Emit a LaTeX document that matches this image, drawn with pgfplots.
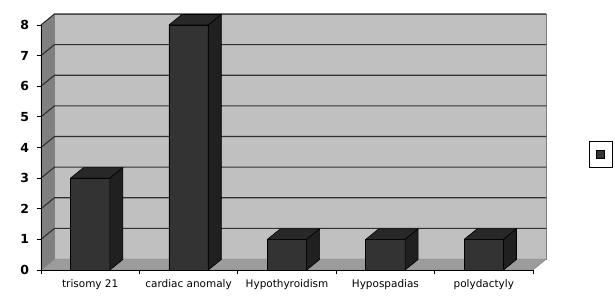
\documentclass[border=0pt]{standalone}
\usepackage{fontspec}
\setmainfont{DejaVu Sans}
\usepackage{pgfplots}
\pgfplotsset{compat=1.18}
\usepackage{pgfplotstable}
\definecolor{backwall}{HTML}{C0C0C0}
\definecolor{sidewall}{HTML}{808080}
\definecolor{floorc}{HTML}{9C9C9C}
\definecolor{gridc}{HTML}{303030}
\definecolor{wallborder}{HTML}{808080}
\definecolor{barfront}{HTML}{333333}
\definecolor{bartop}{HTML}{282828}
\definecolor{barside}{HTML}{202020}

\pgfplotstableread{
x y
0 3
1 8
2 1
3 1
4 1
}\data

\begin{document}
\begin{tikzpicture}
\begin{axis}[
  scale only axis, width=492bp, height=245bp,
  xmin=0, xmax=5, ymin=0, ymax=8,
  clip=false, axis on top,
  axis lines=left,
  every outer x axis line/.append style={-},
  every outer y axis line/.append style={-},
  axis line style={black, line width=0.8bp},
  xtick={0,1,2,3,4,5},
  xticklabels={},
  extra x ticks={0.5,1.5,2.5,3.5,4.5},
  extra x tick labels={trisomy 21, cardiac anomaly, Hypothyroidism, Hypospadias, polydactyly},
  extra x tick style={major tick length=0pt},
  ytick={0,...,8},
  tick align=outside,
  major tick length=4.5bp,
  tick style={black, line width=0.8bp},
  xticklabel style={font=\fontsize{10.5}{12}\selectfont, yshift=-6.5bp},
  yticklabel style={font=\bfseries\fontsize{12.5}{14}\selectfont, xshift=-4bp},
  /pgf/number format/assume math mode=true,
  legend style={at={(1.138,0.471)}, anchor=center, draw=black, line width=0.8bp,
    inner xsep=6.5bp, inner ysep=8.5bp, nodes={inner sep=0pt}},
]
% walls and floor
\addplot[fill=backwall, draw=wallborder, forget plot] coordinates {(0.137,0.359) (5.137,0.359) (5.137,8.359) (0.137,8.359) (0.137,0.359)};
\addplot[fill=floorc, draw=wallborder, forget plot] coordinates {(0,0) (5,0) (5.137,0.359) (0.137,0.359) (0,0)};
\addplot[fill=sidewall, draw=wallborder, forget plot] coordinates {(0,0) (0,8) (0.137,8.359) (0.137,0.359) (0,0)};
% gridlines
\pgfplotsforeachungrouped \v in {1,...,8}{
  \pgfmathsetmacro\vb{\v+0.359}
  \edef\tmp{\noexpand\addplot[gridc, line width=1.1bp, forget plot] coordinates {(0,\v) (0.137,\vb) (5.137,\vb)};}
  \tmp
}
% bar fronts
\addplot[ybar, bar width=0.4, bar shift=0pt, fill=barfront, draw=black, line width=0.6bp,
  legend image code/.code={\draw[fill=barfront, draw=black] (-4bp,-4bp) rectangle (4bp,4bp);}]
  table[x expr=\thisrow{x}+0.5, y=y]{\data};
\addlegendentry{}
% bar tops and sides
\pgfplotstablegetrowsof{\data}
\pgfmathtruncatemacro\nr{\pgfplotsretval-1}
\pgfplotsforeachungrouped \i in {0,...,\nr}{
  \pgfplotstablegetelem{\i}{y}\of\data \let\vv\pgfplotsretval
  \pgfplotstablegetelem{\i}{x}\of\data \let\xx\pgfplotsretval
  \pgfmathsetmacro\xl{\xx+0.3}
  \pgfmathsetmacro\xr{\xx+0.7}
  \pgfmathsetmacro\xlb{\xx+0.3+0.132}
  \pgfmathsetmacro\xrb{\xx+0.7+0.132}
  \pgfmathsetmacro\vb{\vv+0.343}
  \edef\tmp{\noexpand\addplot[fill=bartop, draw=black, line width=0.6bp, forget plot] coordinates {(\xl,\vv) (\xlb,\vb) (\xrb,\vb) (\xr,\vv) (\xl,\vv)};
    \noexpand\addplot[fill=barside, draw=black, line width=0.6bp, forget plot] coordinates {(\xr,0) (\xr,\vv) (\xrb,\vb) (\xrb,0.343) (\xr,0)};}
  \tmp
}
\coordinate (O) at (axis cs:0,0);
\end{axis}
\pgfresetboundingbox
\path[use as bounding box] ([shift={(-41bp,-28bp)}]O) rectangle ([shift={(574bp,270bp)}]O);
\end{tikzpicture}
\end{document}
